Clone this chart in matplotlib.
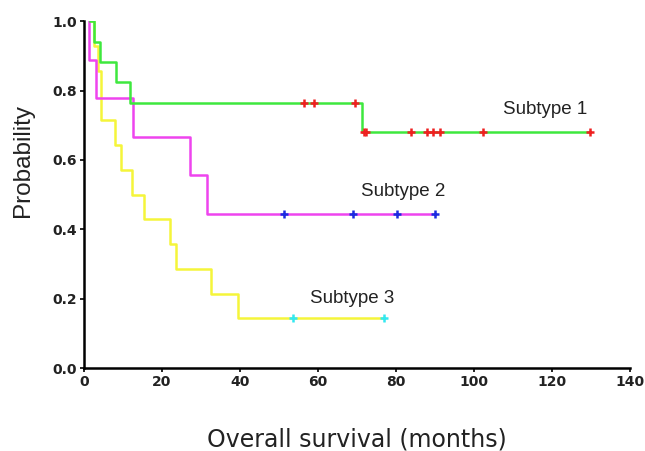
import numpy as np
import matplotlib.pyplot as plt

# ------------------------------------------------------------------
# Kaplan-Meier steps (months, probability)
# ------------------------------------------------------------------
t1 = [1.5, 2.7, 4.1, 8.2, 11.9, 71.4]
s1 = [1.0, 0.941, 0.882, 0.824, 0.765, 0.680]
end1 = 129.8
cens1 = [56.5, 59.0, 69.4, 71.8, 72.3, 83.8, 88.0, 89.6, 91.2, 102.3, 129.8]

t2 = [1.2, 1.4, 3.1, 12.7, 27.1, 31.6]
s2 = [1.0, 0.889, 0.778, 0.667, 0.556, 0.444]
end2 = 90.0
cens2 = [51.2, 69.0, 80.2, 90.0]

t3 = [1.5, 2.6, 3.6, 4.3, 7.9, 9.4, 12.4, 15.4, 22.2, 23.5, 32.5, 39.6]
s3 = [1.0, 0.929, 0.857, 0.714, 0.643, 0.571, 0.500, 0.429, 0.357, 0.286, 0.214, 0.143]
end3 = 77.0
cens3 = [53.5, 76.9]

labels = ["Subtype 1", "Subtype 2", "Subtype 3"]
label_xy = [(107.5, 0.745), (71, 0.51), (58, 0.2)]


def km_at(t, s, x):
    idx = np.searchsorted(t, x, side='right') - 1
    return np.asarray(s)[idx]


fig = plt.figure(figsize=(6.45, 4.51), dpi=100)
ax = fig.add_axes([0.130, 0.184, 0.847, 0.769])

curves = [
    (t3, s3, end3, cens3, '#f5f53a', '#33e8f0'),
    (t2, s2, end2, cens2, '#ee44ee', '#1a2be0'),
    (t1, s1, end1, cens1, '#3ee83e', '#ee2020'),
]
for t, s, end, cens, lc, mc in curves:
    x = list(t) + [end]
    y = list(s) + [s[-1]]
    ax.step(x, y, where='post', color=lc, linewidth=1.8, zorder=2)
    ax.plot(cens, km_at(t, s, cens), '+', color=mc, markersize=6,
            markeredgewidth=1.8, zorder=3)

for lab, (lx, ly) in zip(labels, label_xy):
    ax.text(lx, ly, lab, fontsize=13.5, family='Liberation Sans',
            color='#222222', ha='left', va='center')

ax.set_xlim(0, 140)
ax.set_ylim(0, 1.0)
ax.set_xticks(np.arange(0, 141, 20))
ax.set_yticks(np.arange(0, 1.01, 0.2))
ax.set_yticklabels([f"{v:.1f}" for v in np.arange(0, 1.01, 0.2)])
for lbl in ax.get_xticklabels() + ax.get_yticklabels():
    lbl.set_fontweight('bold')
    lbl.set_fontsize(10)
    lbl.set_color('#222222')
ax.tick_params(length=3, width=1.2, direction='out', pad=2)

for side in ['top', 'right']:
    ax.spines[side].set_visible(False)
for side in ['left', 'bottom']:
    ax.spines[side].set_linewidth(1.8)

ax.set_xlabel('Overall survival (months)', fontsize=17, labelpad=28, color='#222222')
ax.set_ylabel('Probability', fontsize=17.5, family='Liberation Sans', color='#222222')
ax.yaxis.set_label_coords(-0.092, 0.597)

plt.savefig('out.png', dpi=100)
